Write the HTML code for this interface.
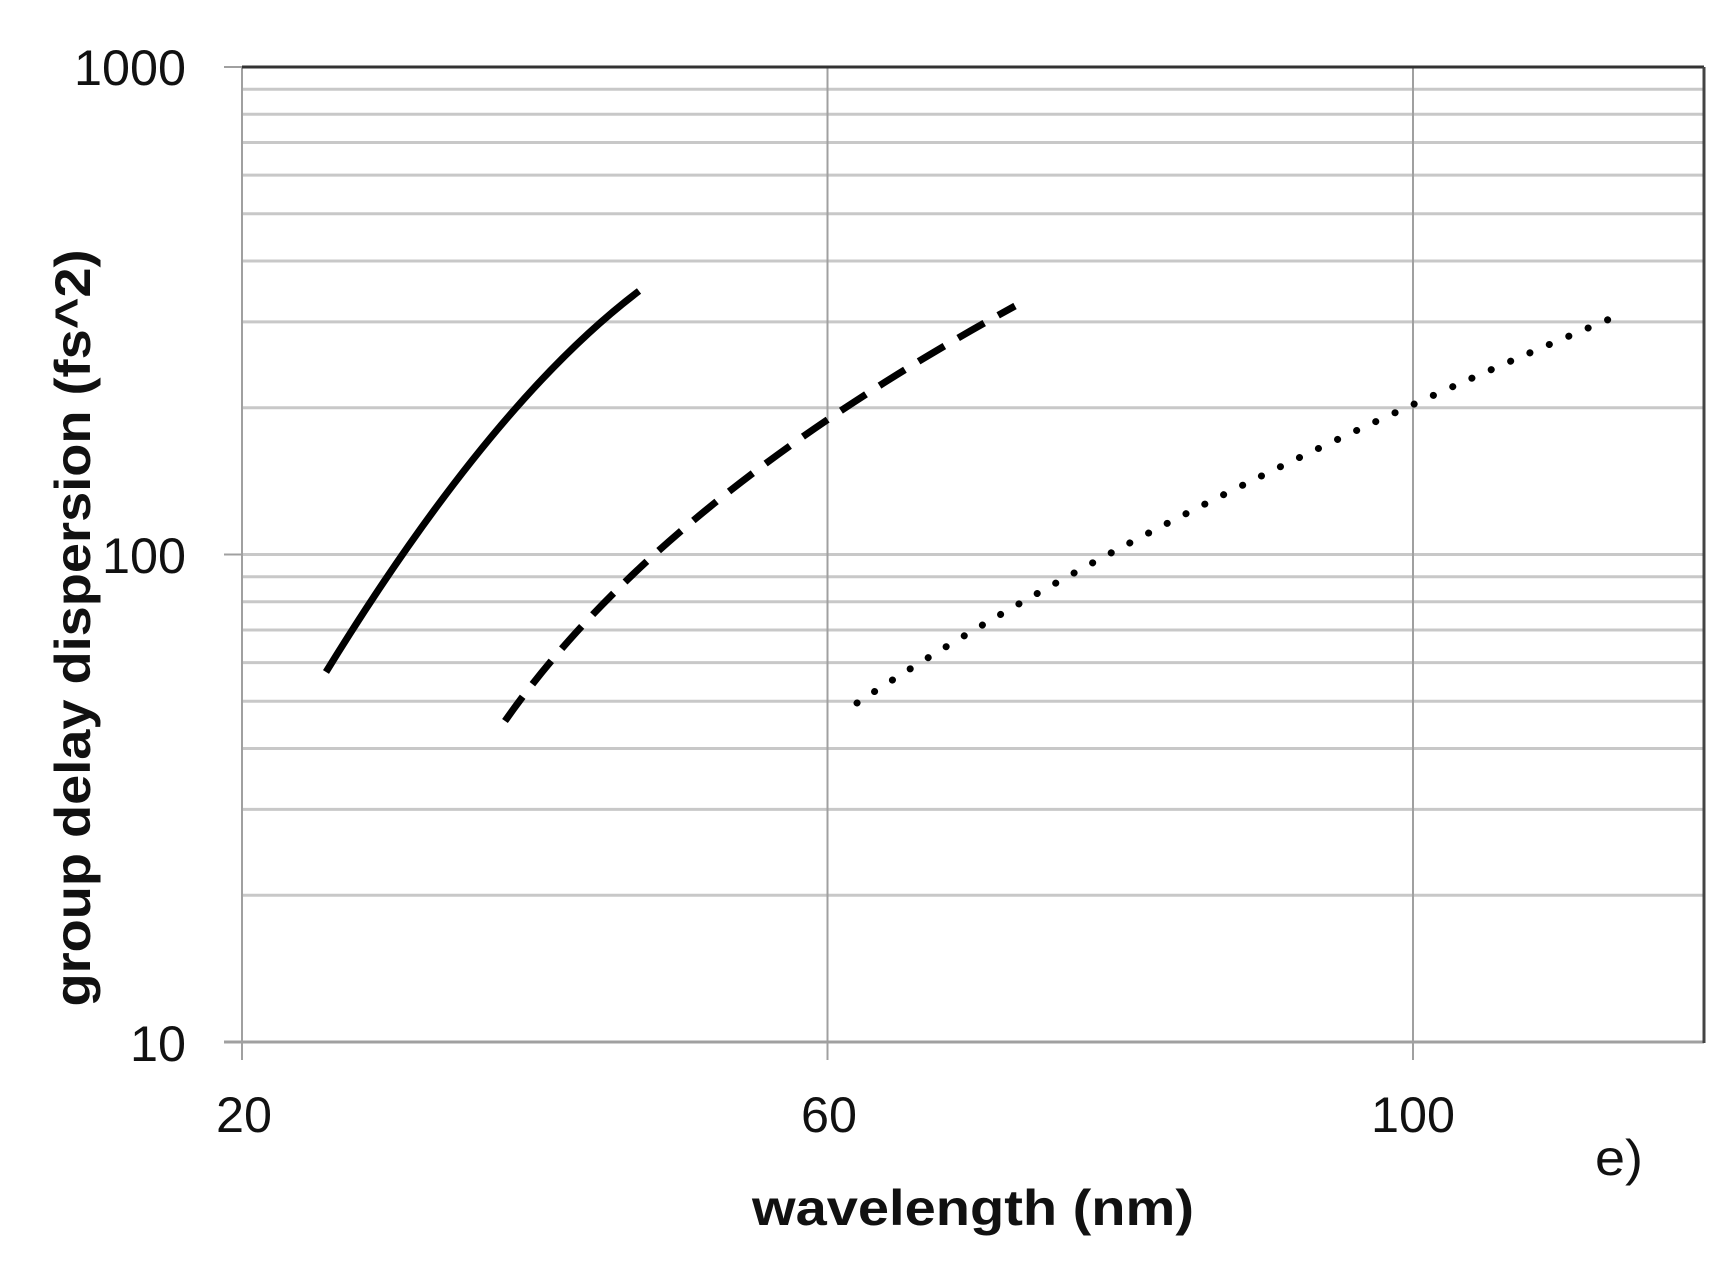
<!DOCTYPE html>
<html><head><meta charset="utf-8"><style>html,body{margin:0;padding:0;background:#fff}svg{display:block}</style></head>
<body>
<svg width="1735" height="1270" viewBox="0 0 1735 1270" xmlns="http://www.w3.org/2000/svg" font-family="Liberation Sans, sans-serif">
<g stroke="#c8c8c8" stroke-width="3">
<line x1="242" x2="1704" y1="554.5" y2="554.5"/>
<line x1="242" x2="1704" y1="407.7" y2="407.7"/>
<line x1="242" x2="1704" y1="321.9" y2="321.9"/>
<line x1="242" x2="1704" y1="261.0" y2="261.0"/>
<line x1="242" x2="1704" y1="213.7" y2="213.7"/>
<line x1="242" x2="1704" y1="175.1" y2="175.1"/>
<line x1="242" x2="1704" y1="142.5" y2="142.5"/>
<line x1="242" x2="1704" y1="114.2" y2="114.2"/>
<line x1="242" x2="1704" y1="89.3" y2="89.3"/>
<line x1="242" x2="1704" y1="895.2" y2="895.2"/>
<line x1="242" x2="1704" y1="809.4" y2="809.4"/>
<line x1="242" x2="1704" y1="748.5" y2="748.5"/>
<line x1="242" x2="1704" y1="701.2" y2="701.2"/>
<line x1="242" x2="1704" y1="662.6" y2="662.6"/>
<line x1="242" x2="1704" y1="630.0" y2="630.0"/>
<line x1="242" x2="1704" y1="601.7" y2="601.7"/>
<line x1="242" x2="1704" y1="576.8" y2="576.8"/>
</g>
<g stroke="#a0a0a0" stroke-width="2">
<line x1="827.5" x2="827.5" y1="67" y2="1060"/>
<line x1="1413" x2="1413" y1="67" y2="1060"/>
<line x1="242" x2="242" y1="67" y2="1060"/>
<line x1="224" x2="1704" y1="1042" y2="1042" stroke-width="3"/>
<line x1="224" x2="242" y1="67" y2="67"/>
<line x1="224" x2="242" y1="554.5" y2="554.5"/>
</g>
<line x1="242" x2="1704" y1="67" y2="67" stroke="#333" stroke-width="3"/>
<line x1="1704" x2="1704" y1="67" y2="1043" stroke="#444" stroke-width="3"/>
<g fill="none" stroke="#000" stroke-linecap="round">
<path d="M326,672 Q491.5,402.5 639,291" stroke-width="7" stroke-linecap="butt"/>
<path d="M505,721 Q660,500 1015,306" stroke-width="7" stroke-dasharray="30 16" stroke-linecap="butt"/>
<path d="M857,703 Q1150,510 1624,313" stroke-width="7" stroke-dasharray="0.1 21"/>
</g>
<g font-size="50" fill="#111" text-anchor="end">
<text x="186" y="85" textLength="112" lengthAdjust="spacingAndGlyphs">1000</text>
<text x="186" y="573" textLength="84" lengthAdjust="spacingAndGlyphs">100</text>
<text x="186" y="1061" textLength="56" lengthAdjust="spacingAndGlyphs">10</text>
</g>
<g font-size="50" fill="#111" text-anchor="middle">
<text x="244" y="1132" textLength="56" lengthAdjust="spacingAndGlyphs">20</text>
<text x="829" y="1132" textLength="56" lengthAdjust="spacingAndGlyphs">60</text>
<text x="1413" y="1132" textLength="84" lengthAdjust="spacingAndGlyphs">100</text>
<text x="1619" y="1175" textLength="48" lengthAdjust="spacingAndGlyphs">e)</text>
</g>
<text x="973" y="1225" font-size="50" font-weight="bold" text-anchor="middle" textLength="442" lengthAdjust="spacingAndGlyphs" fill="#111">wavelength (nm)</text>
<text transform="translate(90,628) rotate(-90)" font-size="50" font-weight="bold" text-anchor="middle" textLength="757" lengthAdjust="spacingAndGlyphs" fill="#111">group delay dispersion (fs^2)</text>
</svg>
</body></html>
